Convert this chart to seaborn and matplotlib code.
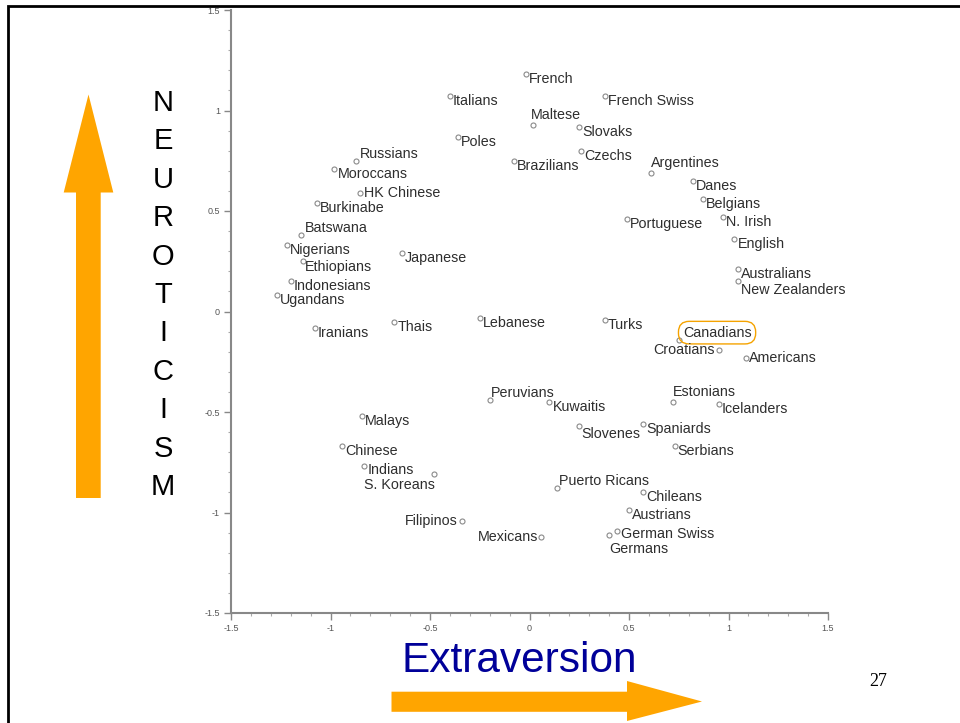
import matplotlib
matplotlib.use("Agg")
import matplotlib.pyplot as plt
import matplotlib.ticker as mticker
from matplotlib.patches import Rectangle, Polygon
import seaborn as sns
import pandas as pd

# data
countries = ["Italians", "Poles", "Russians", "Moroccans", "HK Chinese", "Burkinabe",
             "Batswana", "French", "French Swiss", "Maltese", "Slovaks", "Czechs",
             "Brazilians", "Argentines", "Danes", "Belgians", "Portuguese", "N. Irish",
             "English", "Nigerians", "Ethiopians", "Japanese", "Indonesians", "Ugandans",
             "Iranians", "Thais", "Lebanese", "Peruvians", "Malays", "Australians",
             "New Zealanders", "Turks", "Canadians", "Croatians", "Americans", "Estonians",
             "Icelanders", "Kuwaitis", "Slovenes", "Spaniards", "Serbians", "Chinese",
             "Indians", "S. Koreans", "Filipinos", "Mexicans", "Puerto Ricans", "Chileans",
             "Austrians", "German Swiss", "Germans"]
extraversion = [-0.40, -0.36, -0.87, -0.98, -0.85, -1.07,
                -1.15, -0.02, 0.38, 0.02, 0.25, 0.26,
                -0.08, 0.61, 0.82, 0.87, 0.49, 0.97,
                1.03, -1.22, -1.14, -0.64, -1.20, -1.27,
                -1.08, -0.68, -0.25, -0.20, -0.84, 1.05,
                1.05, 0.38, 0.75, 0.95, 1.09, 0.72,
                0.95, 0.10, 0.25, 0.57, 0.73, -0.94,
                -0.83, -0.48, -0.34, 0.06, 0.14, 0.57,
                0.50, 0.44, 0.40]
neuroticism = [1.07, 0.87, 0.75, 0.71, 0.59, 0.54,
               0.38, 1.18, 1.07, 0.93, 0.92, 0.80,
               0.75, 0.69, 0.65, 0.56, 0.46, 0.47,
               0.36, 0.33, 0.25, 0.29, 0.15, 0.08,
               -0.08, -0.05, -0.03, -0.44, -0.52, 0.21,
               0.15, -0.04, -0.14, -0.19, -0.23, -0.45,
               -0.46, -0.45, -0.57, -0.56, -0.67, -0.67,
               -0.77, -0.81, -1.04, -1.12, -0.88, -0.90,
               -0.99, -1.09, -1.11]
ticks = [-1.5, -1, -0.5, 0, 0.5, 1, 1.5]

df = pd.DataFrame({"country": countries, "E": extraversion, "N": neuroticism})

# label placement tweaks (pixel offsets, alignment)
default_off = (3, -5, "left")
label_off = {
    "Russians": (4, 7, "left"), "HK Chinese": (4, 0, "left"), "Batswana": (4, 7, "left"),
    "Maltese": (-3, 10, "left"), "Argentines": (0, 10, "left"), "Ethiopians": (2, -6, "left"),
    "Canadians": (4, 7, "left"), "Croatians": (-4, 0, "right"), "Americans": (3, 0, "left"),
    "Estonians": (0, 10, "left"), "Peruvians": (1, 7, "left"), "S. Koreans": (1, -11, "right"),
    "Filipinos": (-4, 0, "right"), "Mexicans": (-3, 0, "right"), "Puerto Ricans": (2, 7, "left"),
    "Germans": (0, -14, "left"), "German Swiss": (4, -3, "left"),
    "New Zealanders": (3, -9, "left"), "Slovenes": (2, -8, "left"), "Indians": (3, -4, "left"),
}

sns.set_style("white")
plt.rcParams['font.family'] = ['Liberation Sans', 'DejaVu Sans']
plt.rcParams['axes.unicode_minus'] = False

W, H = 960, 723
fig = plt.figure(figsize=(9.6, 7.23), dpi=100)
ax = fig.add_axes([231 / W, 1 - 613 / H, (828 - 231) / W, (613 - 10) / H])

sns.scatterplot(data=df, x="E", y="N", ax=ax, marker="o", s=13,
                facecolor="white", edgecolor="#8a8a8a", linewidth=0.8, zorder=3)

for c, x, y in zip(countries, extraversion, neuroticism):
    dx, dy, ha = label_off.get(c, default_off)
    kw = {}
    if c == "Canadians":
        kw["bbox"] = dict(boxstyle="round,pad=0.3,rounding_size=0.75",
                          fc="none", ec="#f5a300", lw=1.0)
    ax.annotate(c, (x, y), xytext=(dx, dy), textcoords="offset pixels",
                ha=ha, va="center", fontsize=10.3, color="#2e2e2e", **kw)

ax.set_xlim(-1.5, 1.5)
ax.set_ylim(-1.5, 1.5)
ax.set_xticks(ticks)
ax.set_yticks(ticks)
fmt = mticker.FuncFormatter(lambda v, p: "%g" % v)
ax.xaxis.set_major_formatter(fmt)
ax.yaxis.set_major_formatter(fmt)
ax.xaxis.set_minor_locator(mticker.MultipleLocator(0.1))
ax.yaxis.set_minor_locator(mticker.MultipleLocator(0.1))
ax.tick_params(which="major", length=5, width=1, color="#888888",
               labelsize=6.5, labelcolor="#555555", pad=3)
ax.tick_params(which="minor", length=2.5, width=0.8, color="#aaaaaa")
ax.tick_params(axis="x", which="both", bottom=True)
ax.tick_params(axis="y", which="both", left=True)
for s in ["top", "right"]:
    ax.spines[s].set_visible(False)
for s in ["left", "bottom"]:
    ax.spines[s].set_color("#888888")
    ax.spines[s].set_linewidth(1.5)
ax.set_xlabel("")
ax.set_ylabel("")


# slide decorations, positioned in pixels from the top-left corner
def fx(px):
    return px / W


def fy(py):
    return 1 - py / H


fig.patches.append(Rectangle((fx(8), fy(740)), fx(980) - fx(8), fy(6) - fy(740),
                             transform=fig.transFigure, fill=False, ec="black", lw=2))

orange = "#ffa500"
# vertical arrow (Neuroticism)
up_arrow = [(76, 498), (100.7, 498), (100.7, 192.5), (113.3, 192.5),
            (88.5, 94.5), (63.7, 192.5), (76, 192.5)]
fig.patches.append(Polygon([(fx(a), fy(b)) for a, b in up_arrow], closed=True,
                           transform=fig.transFigure, color=orange, lw=0))
# horizontal arrow (Extraversion)
right_arrow = [(391.5, 691.7), (627, 691.7), (627, 681), (702, 701.5),
               (627, 721), (627, 711.8), (391.5, 711.8)]
fig.patches.append(Polygon([(fx(a), fy(b)) for a, b in right_arrow], closed=True,
                           transform=fig.transFigure, color=orange, lw=0))

for i, ch in enumerate("NEUROTICISM"):
    fig.text(fx(163), fy(103 + i * 38.4), ch, ha="center", va="center",
             fontsize=21, color="black")

fig.text(fx(519), fy(661), "Extraversion", ha="center", va="center",
         fontsize=30.5, color="#000099")
fig.text(fx(878), fy(681), "27", ha="center", va="center", fontsize=13,
         color="black", family="Liberation Serif")

fig.savefig("out.png", dpi=100)
